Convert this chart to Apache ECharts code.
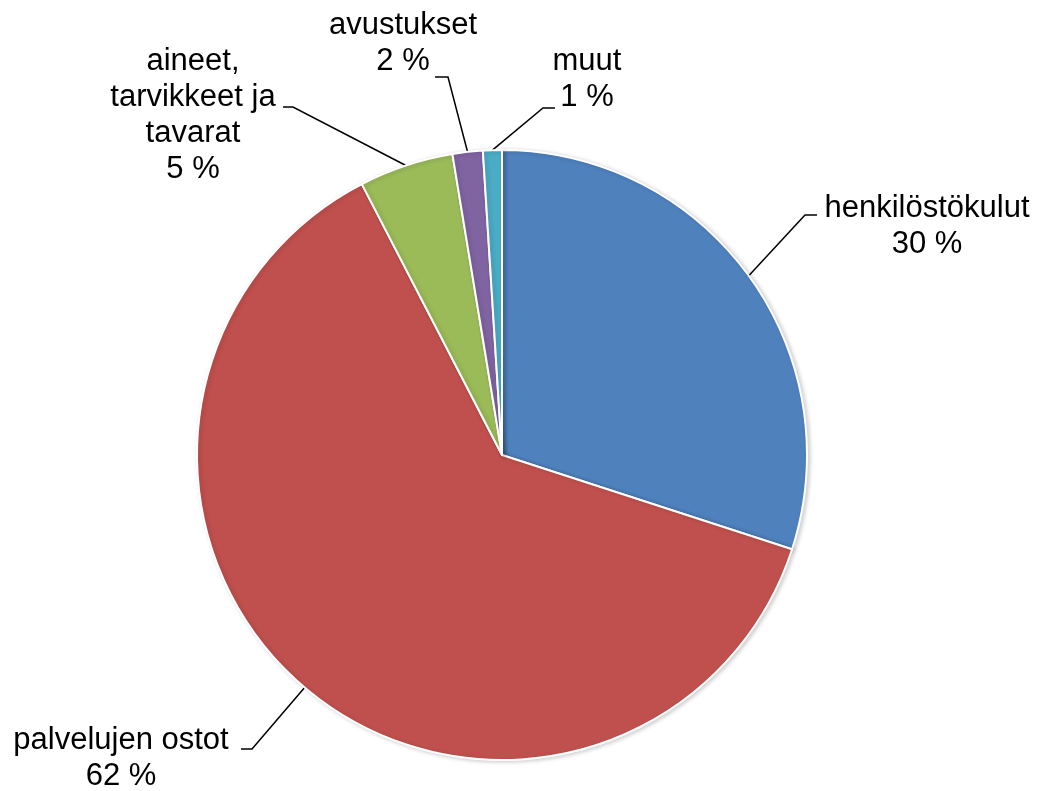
<!DOCTYPE html>
<html>
<head>
<meta charset="utf-8">
<script src="https://cdn.jsdelivr.net/npm/echarts@6/dist/echarts.min.js"></script>
<style>
  html, body { margin: 0; padding: 0; background: #ffffff; }
  #chart { width: 1040px; height: 791px; }
</style>
</head>
<body>
<div id="chart"></div>
<script>
// ---- data ----
const categories = ['henkilöstökulut', 'palvelujen ostot', 'aineet,\ntarvikkeet ja\ntavarat', 'avustukset', 'muut'];
const values = [30.0, 62.4, 5.0, 1.6, 1.0];
const colors = ['#4F81BD', '#C0504D', '#9BBB59', '#8064A2', '#4BACC6'];

// ---- label placement (annotation layout, not data) ----
const labelPlacement = [
  { x: 927, y: 226, elbow: [805, 215], end: [817, 215] },
  { x: 121, y: 758, elbow: [252, 749], end: [241, 749] },
  { x: 193, y: 115, elbow: [293, 107], end: [283, 107] },
  { x: 403, y: 43,  elbow: [448, 77],  end: [435, 77] },
  { x: 587, y: 79,  elbow: [543, 108], end: [555, 108] }
];

const chart = echarts.init(document.getElementById('chart'), null, { renderer: 'canvas' });

const data = categories.map((name, i) => ({
  name: name,
  value: values[i],
  itemStyle: { color: colors[i] }
}));

chart.setOption({
  backgroundColor: '#ffffff',
  animation: false,
  series: [{
    type: 'pie',
    center: [502, 455],
    radius: 305,
    startAngle: 90,
    clockwise: true,
    avoidLabelOverlap: false,
    data: data,
    itemStyle: {
      borderColor: '#ffffff',
      borderWidth: 2,
      shadowBlur: 4,
      shadowColor: 'rgba(0,0,0,0.18)',
      shadowOffsetX: 2,
      shadowOffsetY: 1
    },
    label: {
      show: true,
      position: 'outside',
      formatter: function (p) { return p.name + '\n' + Math.round(p.percent) + ' %'; },
      fontFamily: '"Liberation Sans", Arial, sans-serif',
      fontSize: 31,
      lineHeight: 36,
      color: '#000000',
      align: 'center'
    },
    labelLine: {
      show: true,
      length: 10,
      length2: 10,
      smooth: false,
      lineStyle: { color: '#000000', width: 1.5 }
    },
    labelLayout: function (p) {
      const c = labelPlacement[p.dataIndex];
      const res = { x: c.x, y: c.y, align: 'center', verticalAlign: 'middle' };
      if (p.labelLinePoints && p.labelLinePoints[0]) {
        res.labelLinePoints = [p.labelLinePoints[0].slice(), c.elbow, c.end];
      }
      return res;
    },
    emphasis: { disabled: true }
  }]
});
</script>
</body>
</html>
